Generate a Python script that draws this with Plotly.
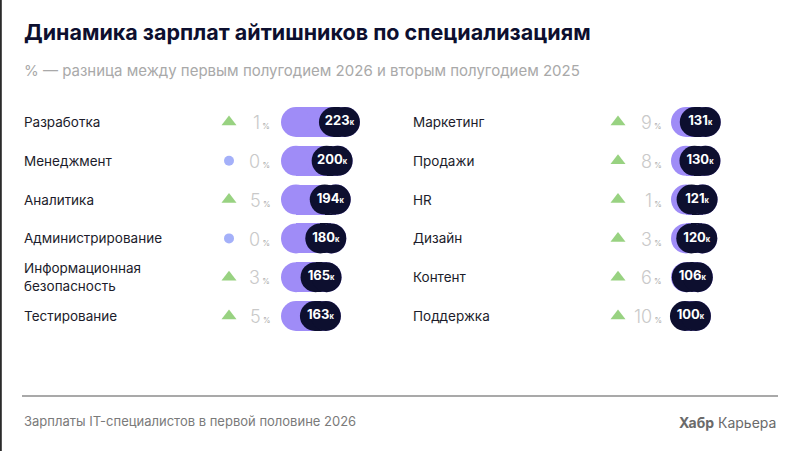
import plotly.graph_objects as go

# ---------------- data ----------------
left_names = ["Разработка", "Менеджмент", "Аналитика", "Администрирование",
              "Информационная<br>безопасность", "Тестирование"]
left_salary = [223, 200, 194, 180, 165, 163]
left_change = [1, 0, 5, 0, 3, 5]

right_names = ["Маркетинг", "Продажи", "HR", "Дизайн", "Контент", "Поддержка"]
right_salary = [131, 130, 121, 120, 106, 100]
right_change = [9, 8, 1, 3, 6, 10]

title = "Динамика зарплат айтишников по специализациям"
subtitle = "% — разница между первым полугодием 2026 и вторым полугодием 2025"
footer_left = "Зарплаты IT-специалистов в первой половине 2026"

# ---------------- style ----------------
W, H = 800, 451
PURPLE = "#9f8cf7"
NAVY = "#0d0f2f"
GREEN = "#6cbf4c"
DOT = "#7d8ef6"
FONT = "Inter"

SCALE = 0.317          # px per thousand
BASE = -26             # value at which pill starts
ROW0, PITCH = 122, 38.8
BAR_PX = 30
BADGE_PX = 41

cols = [
    dict(names=left_names, sal=left_salary, chg=left_change, x0=281, dom=[0, 0.5],
         xa="x", ya="y", label_px=22, mark_px=229, pct_px=272),
    dict(names=right_names, sal=right_salary, chg=right_change, x0=671, dom=[0.5, 1],
         xa="x2", ya="y2", label_px=411, mark_px=618, pct_px=664),
]

def px_to_val(col, px):
    return BASE + (px - col["x0"]) / SCALE

fig = go.Figure()
annotations = []
bar_w = BAR_PX / PITCH
r_val = (BAR_PX / 2) / SCALE      # radius of pill end, in value units
badge_w = BADGE_PX / SCALE


def pill(c, starts, ends, color):
    n = len(starts)
    rows = list(range(n))
    a = [s + r_val for s in starts]
    b = [e - r_val for e in ends]
    fig.add_trace(go.Bar(orientation="h", y=rows, base=a,
                         x=[bb - aa for aa, bb in zip(a, b)],
                         width=bar_w, marker=dict(color=color, line_width=0),
                         xaxis=c["xa"], yaxis=c["ya"], hoverinfo="skip", showlegend=False))
    fig.add_trace(go.Scatter(x=a + b, y=rows + rows, mode="markers",
                             marker=dict(symbol="circle", size=BAR_PX, color=color, line_width=0),
                             xaxis=c["xa"], yaxis=c["ya"], hoverinfo="skip", showlegend=False))


for c in cols:
    n = len(c["sal"])
    rows = list(range(n))
    # purple pill from BASE to the salary value
    pill(c, [BASE] * n, c["sal"], PURPLE)
    # dark badge at the end of the pill
    pill(c, [v - badge_w for v in c["sal"]], c["sal"], NAVY)
    # badge text
    fig.add_trace(go.Scatter(
        x=[v - badge_w / 2 for v in c["sal"]], y=rows, mode="text",
        text=[f"<b>{v}</b><span style='font-size:7.5px'><b>к</b></span>" for v in c["sal"]],
        textfont=dict(family=FONT, size=13, color="white"),
        textposition="middle center",
        xaxis=c["xa"], yaxis=c["ya"], hoverinfo="skip", showlegend=False))
    # change markers
    mx = px_to_val(c, c["mark_px"])
    fig.add_trace(go.Scatter(
        x=[mx] * n, y=rows, mode="markers",
        marker=dict(symbol=["triangle-up" if d > 0 else "circle" for d in c["chg"]],
                    color=[GREEN if d > 0 else DOT for d in c["chg"]],
                    size=[13 if d > 0 else 10 for d in c["chg"]], line_width=0),
        xaxis=c["xa"], yaxis=c["ya"], hoverinfo="skip", showlegend=False))
    for i in rows:
        annotations.append(dict(
            x=c["label_px"] / W, xref="paper", y=i, yref=c["ya"], xanchor="left",
            yanchor="middle", text=c["names"][i], showarrow=False, align="left",
            font=dict(family=FONT, size=13.5, color="#1c1c2b")))
        annotations.append(dict(
            x=c["pct_px"] / W, xref="paper", y=i + 0.02, yref=c["ya"], xanchor="right",
            yanchor="middle",
            text=f"{c['chg'][i]}<span style='font-size:8px;color:#9a9a9a'> %</span>",
            showarrow=False,
            font=dict(family=FONT, size=18, color="#c9c9c9", weight=300)))

y_range = [(H - ROW0) / PITCH, -ROW0 / PITCH]

def xr(c):
    return [px_to_val(c, c["dom"][0] * W), px_to_val(c, c["dom"][1] * W)]

axis_common = dict(showgrid=False, zeroline=False, showticklabels=False, ticks="",
                   showline=False, fixedrange=True)
fig.update_layout(
    width=W, height=H, margin=dict(l=0, r=0, t=0, b=0),
    paper_bgcolor="white", plot_bgcolor="rgba(0,0,0,0)",
    barmode="overlay", bargap=0,
    xaxis=dict(domain=cols[0]["dom"], range=xr(cols[0]), **axis_common),
    xaxis2=dict(domain=cols[1]["dom"], range=xr(cols[1]), anchor="y2", **axis_common),
    yaxis=dict(domain=[0, 1], range=y_range, **axis_common),
    yaxis2=dict(domain=[0, 1], range=y_range, anchor="x2", **axis_common),
    annotations=annotations + [
        dict(x=22 / W, y=1 - 32 / H, xref="paper", yref="paper", xanchor="left",
             yanchor="middle", showarrow=False, text=f"<b>{title}</b>",
             font=dict(family=FONT, size=21.5, color="#0d0f2f")),
        dict(x=22 / W, y=1 - 70 / H, xref="paper", yref="paper", xanchor="left",
             yanchor="middle", showarrow=False, text=subtitle,
             font=dict(family=FONT, size=15, color="#a9a9a9")),
        dict(x=22 / W, y=1 - 421 / H, xref="paper", yref="paper", xanchor="left",
             yanchor="middle", showarrow=False, text=footer_left,
             font=dict(family=FONT, size=13, color="#7a7a7a")),
        dict(x=778 / W, y=1 - 422 / H, xref="paper", yref="paper", xanchor="right",
             yanchor="middle", showarrow=False, text="<b>Хабр</b> Карьера",
             font=dict(family=FONT, size=14, color="#6a6a6a")),
    ],
    shapes=[
        dict(type="line", xref="paper", yref="paper", x0=22 / W, x1=778 / W,
             y0=1 - 396 / H, y1=1 - 396 / H, line=dict(color="#8c8c8c", width=1.5)),
        dict(type="line", xref="paper", yref="paper", x0=0.001, x1=0.001,
             y0=0, y1=1, line=dict(color="#2a2a2a", width=2)),
    ],
)

fig.write_html("out.html", config={"displayModeBar": False},
               post_script="document.body.style.margin='0';document.body.style.overflow='hidden';")
